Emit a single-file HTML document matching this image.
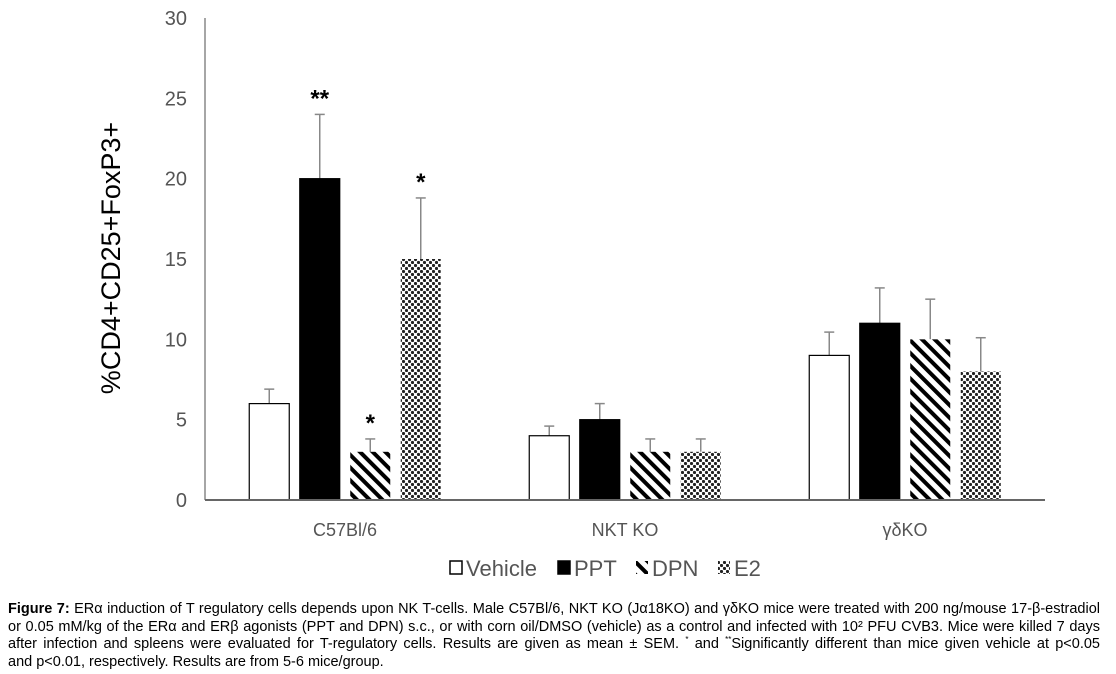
<!DOCTYPE html>
<html><head><meta charset="utf-8"><style>
body{margin:0;background:#fff;width:1116px;height:674px;overflow:hidden;font-family:"Liberation Sans",sans-serif}
#cap{position:absolute;left:8px;top:601px;width:1092px;font-size:14.5px;line-height:17.6px;color:#000}
#cap .j{text-align:justify;text-align-last:justify;white-space:nowrap;height:17.6px}
#cap sup{font-size:8px;line-height:0;vertical-align:6px}
</style></head><body>
<svg id="chart" width="1116" height="600" style="position:absolute;left:0;top:0">
<defs>
<pattern id="stripe" width="9" height="9" patternUnits="userSpaceOnUse" patternTransform="rotate(45)">
<rect width="9" height="9" fill="#fff"/><rect width="9" height="4" fill="#000"/></pattern>
<pattern id="dots" width="6" height="6" patternUnits="userSpaceOnUse">
<rect width="6" height="6" fill="#fff"/><circle cx="1.5" cy="1.5" r="1.6" fill="#222"/><circle cx="4.5" cy="4.5" r="1.6" fill="#222"/></pattern>
</defs>
<g id="g"></g>
</svg>
<div id="cap">
<div class="j"><b>Figure 7:</b> ERα induction of T regulatory cells depends upon NK T-cells. Male C57Bl/6, NKT KO (Jα18KO) and γδKO mice were treated with 200 ng/mouse 17-β-estradiol</div>
<div class="j">or 0.05 mM/kg of the ERα and ERβ agonists (PPT and DPN) s.c., or with corn oil/DMSO (vehicle) as a control and infected with 10² PFU CVB3. Mice were killed 7 days</div>
<div class="j">after infection and spleens were evaluated for T-regulatory cells. Results are given as mean ± SEM. <sup>*</sup> and <sup>**</sup>Significantly different than mice given vehicle at p&lt;0.05</div>
<div>and p&lt;0.01, respectively. Results are from 5-6 mice/group.</div>
</div>
<script>
const categories=["C57Bl/6","NKT KO","γδKO"];
const series=["Vehicle","PPT","DPN","E2"];
const vehicle=[6,4,9];
const ppt=[20,5,11];
const dpn=[3,3,10];
const e2=[15,3,8];
const errVehicle=[0.9,0.6,1.45];
const errPpt=[4.0,1.0,2.2];
const errDpn=[0.8,0.8,2.5];
const errE2=[3.8,0.8,2.1];
const sig=[["","**","*","*"],["","","",""],["","","",""]];
const yTicks=[0,5,10,15,20,25,30];

const NS="http://www.w3.org/2000/svg",g=document.getElementById('g');
const y0=500,y1=18,x0=205,x1=1045;
const Y=v=>y0-(v/30)*(y0-y1);
const groupW=(x1-x0)/categories.length;
const X=(ci,si)=>x0+groupW*(ci+0.5)+(si-1.5)*50.5;
function el(t,a,txt){const e=document.createElementNS(NS,t);for(const k in a)e.setAttribute(k,a[k]);if(txt!==undefined)e.textContent=txt;g.appendChild(e);return e;}
const fills=["#fff","#000","url(#stripe)","url(#dots)"];
const vals=[vehicle,ppt,dpn,e2],errs=[errVehicle,errPpt,errDpn,errE2];
yTicks.forEach(t=>{const e=el('text',{x:187,y:Y(t)+7,'text-anchor':'end','font-size':20,fill:'#555'},t);

});
let a=el('line',{x1:x0,y1:y1,x2:x0,y2:y0,stroke:'#888','stroke-width':1.5});


let t=el('text',{x:0,y:0,transform:'translate(120,258) rotate(-90)','text-anchor':'middle','font-size':27,fill:'#000'},'%CD4+CD25+FoxP3+');


categories.forEach((c,ci)=>{
 vals.forEach((arr,si)=>{
  const cx=X(ci,si),v=arr[ci],e=errs[si][ci];
  const top=Y(v+e);
  const l=el('line',{x1:cx,y1:Y(v),x2:cx,y2:top,stroke:'#888','stroke-width':1.5});
  
  
  const c2=el('line',{x1:cx-5,y1:top,x2:cx+5,y2:top,stroke:'#888','stroke-width':1.5});
  
  
  const r=el('rect',{x:cx-20,y:Y(v),width:40,height:y0-Y(v),fill:fills[si],stroke:si==2||si==3?'none':'#000','stroke-width':1.2});
  
  
  if(sig[ci][si]){const s=el('text',{x:cx,y:top-8,'text-anchor':'middle','font-size':24,'font-weight':'bold'},sig[ci][si]);
  
  }
 });
 const lb=el('text',{x:x0+groupW*(ci+0.5),y:536,'text-anchor':'middle','font-size':18,fill:'#555'},c);
 
 
});
a=el('line',{x1:x0,y1:y0,x2:x1,y2:y0,stroke:'#666','stroke-width':2});


const lx=[450,558,636,718];
series.forEach((s,si)=>{
 const sw=el('rect',{x:lx[si],y:561,width:12,height:13,fill:fills[si],stroke:si<2?'#000':'none','stroke-width':1.5});
 
 
 const tx=el('text',{x:lx[si]+16,y:576,'font-size':22,fill:'#555'},s);
 
 
});
</script>
</body></html>
